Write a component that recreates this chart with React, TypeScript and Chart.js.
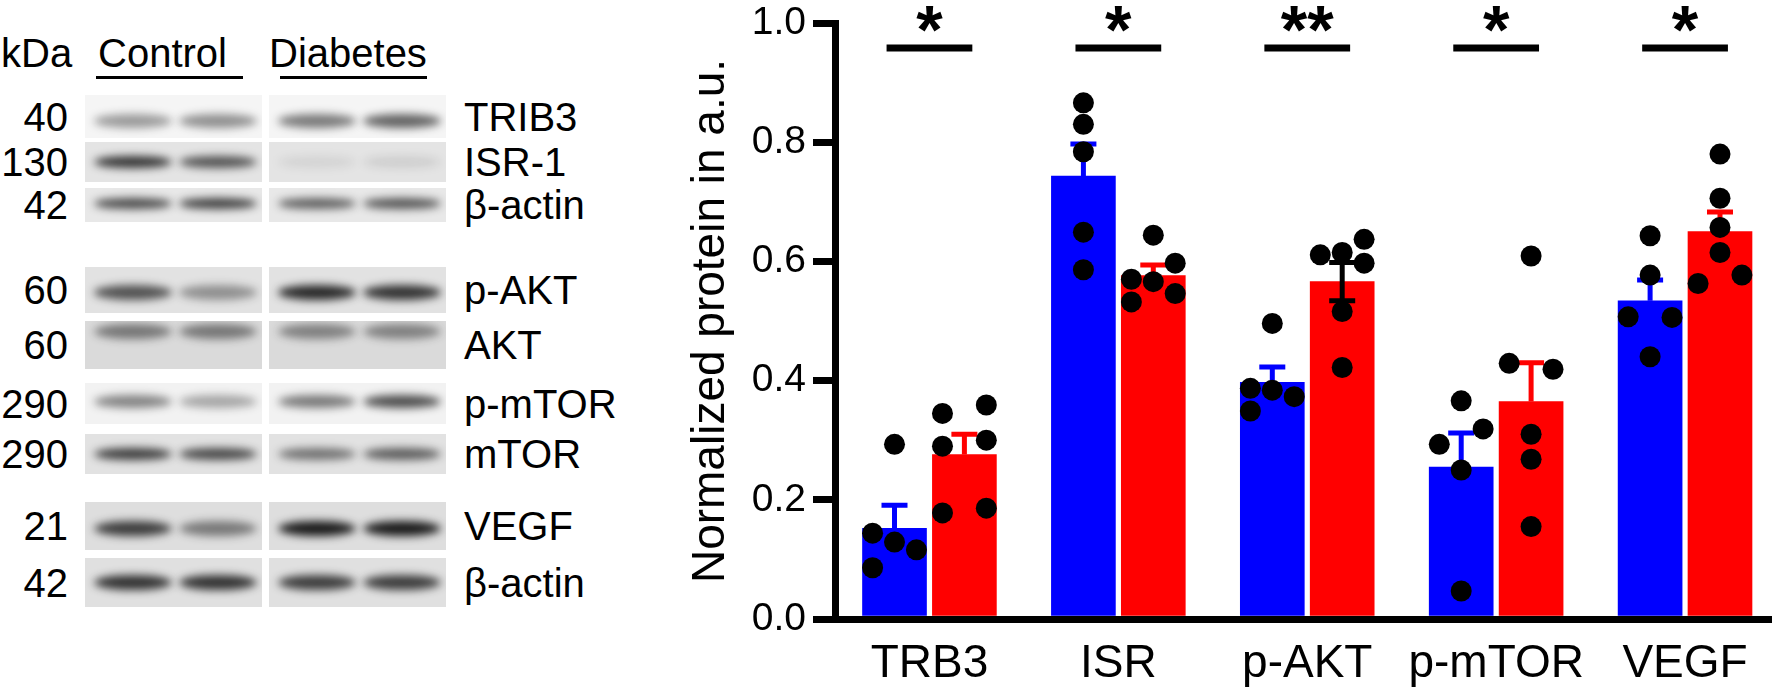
import React, { useEffect, useRef } from 'react';
import { Chart, registerables } from 'chart.js';

Chart.register(...registerables);

const FONT = '"Liberation Sans", Arial, sans-serif';

// bar chart data (normalized protein, a.u.)
const categories = ['TRB3', 'ISR', 'p-AKT', 'p-mTOR', 'VEGF'];
const controlMeans = [0.152, 0.743, 0.397, 0.255, 0.534];
const diabetesMeans = [0.276, 0.576, 0.566, 0.365, 0.65];
const controlSem = [0.039, 0.054, 0.026, 0.057, 0.035];
const diabetesSem = [0.034, 0.018, 0.032, 0.065, 0.033];
const sigLabels = ['*', '*', '**', '*', '*'];
const sigLevel = 0.958;

// single animals: [value, column] with column -1 left, 0 middle, 1 right
const controlPoints = [
  [[0.293, 0], [0.144, -1], [0.129, 0], [0.116, 1], [0.086, -1]],
  [[0.866, 0], [0.83, 0], [0.784, 0], [0.649, 0], [0.586, 0]],
  [[0.496, 0], [0.387, -1], [0.384, 0], [0.373, 1], [0.349, -1]],
  [[0.366, 0], [0.319, 1], [0.293, -1], [0.25, 0], [0.047, 0]],
  [[0.643, 0], [0.577, 0], [0.507, -1], [0.506, 1], [0.44, 0]],
];
const diabetesPoints = [
  [[0.359, 1], [0.345, -1], [0.3, 1], [0.29, -1], [0.186, 1], [0.178, -1]],
  [[0.644, 0], [0.597, 1], [0.57, -1], [0.566, 0], [0.546, 1], [0.532, -1]],
  [[0.637, 1], [0.615, 0], [0.611, -1], [0.597, 1], [0.516, 0], [0.422, 0]],
  [[0.609, 0], [0.429, -1], [0.419, 1], [0.31, 0], [0.268, 0], [0.155, 0]],
  [[0.78, 0], [0.706, 0], [0.657, 0], [0.615, 0], [0.577, 1], [0.563, -1]],
];
// p-AKT diabetes error bar is drawn black and both ways in the original
const diabetesErrColor = ['#ff0000', '#ff0000', '#000000', '#ff0000', '#ff0000'];
const diabetesErrBoth = [false, false, true, false, false];

// western blot panel
const blotKda = ['40', '130', '42', '60', '60', '290', '290', '21', '42'];
const blotNames = ['TRIB3', 'ISR-1', 'β-actin', 'p-AKT', 'AKT', 'p-mTOR', 'mTOR', 'VEGF', 'β-actin'];
const blotBg = ['#f5f5f5', '#e4e4e4', '#e8e8e8', '#e2e2e2', '#dadada', '#f2f2f2', '#e2e2e2', '#dedede', '#e0e0e0'];
// band darkness: control lane 1, lane 2, diabetes lane 1, lane 2
const blotBands = [
  [0.4, 0.45, 0.55, 0.65],
  [0.85, 0.7, 0.08, 0.1],
  [0.75, 0.8, 0.65, 0.7],
  [0.7, 0.4, 0.9, 0.85],
  [0.5, 0.5, 0.45, 0.45],
  [0.5, 0.35, 0.55, 0.75],
  [0.8, 0.75, 0.55, 0.65],
  [0.8, 0.5, 0.97, 0.97],
  [0.85, 0.85, 0.8, 0.8],
];
const blotBandY = [0.6, 0.5, 0.45, 0.55, 0.22, 0.45, 0.5, 0.55, 0.5];
const rowTop = [95, 142, 188, 267, 321, 383, 434, 502, 558];
const rowHeight = [43, 40, 34, 46, 48, 41, 40, 48, 49];

const BAR_SHIFT = 0.185;
const JITTER = 0.116;
const SIG_HALF = 0.227;

const pointsFor = (groups: number[][][], side: number) =>
  groups.flatMap((g, i) => g.map(([v, c]) => ({ x: i + side * BAR_SHIFT + c * JITTER, y: v })));
const barsFor = (means: number[], side: number) => means.map((m, i) => ({ x: i + side * BAR_SHIFT, y: m }));

const errSpecs: Record<number, { means: number[]; sems: number[]; colors: string[]; both: boolean[] }> = {
  0: { means: controlMeans, sems: controlSem, colors: categories.map(() => '#0000ff'), both: categories.map(() => false) },
  1: { means: diabetesMeans, sems: diabetesSem, colors: diabetesErrColor, both: diabetesErrBoth },
};

const errorBars = {
  id: 'errorBars',
  afterDatasetDraw(chart: any, args: any) {
    const spec = errSpecs[args.index];
    if (!spec) return;
    const { ctx } = chart;
    const y = chart.scales.y;
    args.meta.data.forEach((bar: any, i: number) => {
      const top = y.getPixelForValue(spec.means[i] + spec.sems[i]);
      const bottom = y.getPixelForValue(spec.both[i] ? spec.means[i] - spec.sems[i] : spec.means[i]);
      ctx.save();
      ctx.strokeStyle = spec.colors[i];
      ctx.lineWidth = 5;
      ctx.beginPath();
      ctx.moveTo(bar.x, top);
      ctx.lineTo(bar.x, bottom);
      ctx.moveTo(bar.x - 13, top);
      ctx.lineTo(bar.x + 13, top);
      if (spec.both[i]) {
        ctx.moveTo(bar.x - 13, bottom);
        ctx.lineTo(bar.x + 13, bottom);
      }
      ctx.stroke();
      ctx.restore();
    });
  },
};

const stars = {
  id: 'stars',
  afterDraw(chart: any) {
    const { ctx } = chart;
    const x = chart.scales.x;
    const y = chart.scales.y;
    ctx.save();
    ctx.fillStyle = '#000';
    ctx.font = `bold 68px ${FONT}`;
    ctx.textAlign = 'center';
    ctx.textBaseline = 'alphabetic';
    sigLabels.forEach((s, i) => {
      ctx.fillText(s, x.getPixelForValue(i), y.getPixelForValue(sigLevel) + 5);
    });
    ctx.restore();
  },
};

function BarChart() {
  const canvasRef = useRef<HTMLCanvasElement>(null);
  useEffect(() => {
    if (!canvasRef.current) return;
    Chart.defaults.font.family = FONT;
    const sigLines = categories.map((_, i) => ({
      type: 'line' as const,
      data: [{ x: i - SIG_HALF, y: sigLevel }, { x: i + SIG_HALF, y: sigLevel }],
      borderColor: '#000',
      borderWidth: 7,
      borderCapStyle: 'butt' as const,
      pointRadius: 0,
      clip: false,
      order: 2,
    }));
    const barStyle = { barThickness: 64, grouped: false, order: 3 };
    const dotStyle = { type: 'scatter' as const, backgroundColor: '#000', borderWidth: 0, pointRadius: 10.5, order: 1 };
    const chart = new Chart(canvasRef.current, {
      type: 'bar',
      data: {
        datasets: [
          { label: 'Control', data: barsFor(controlMeans, -1), backgroundColor: '#0000ff', ...barStyle },
          { label: 'Diabetes', data: barsFor(diabetesMeans, 1), backgroundColor: '#ff0000', ...barStyle },
          { label: 'Control n', data: pointsFor(controlPoints, -1), ...dotStyle },
          { label: 'Diabetes n', data: pointsFor(diabetesPoints, 1), ...dotStyle },
          ...sigLines,
        ] as any,
      },
      options: {
        animation: false,
        responsive: false,
        devicePixelRatio: 1,
        events: [],
        layout: { padding: { top: 23, right: 7, left: 0, bottom: 0 } },
        plugins: { legend: { display: false }, tooltip: { enabled: false } },
        scales: {
          x: {
            type: 'linear',
            min: -0.5,
            max: 4.5,
            offset: false,
            afterBuildTicks: (s: any) => { s.ticks = categories.map((_, i) => ({ value: i })); },
            grid: { display: false, drawTicks: false, offset: false },
            border: { display: true, width: 7, color: '#000', z: 1 },
            ticks: { color: '#000', font: { size: 46 }, padding: 18, autoSkip: false, maxRotation: 0, callback: (v: any) => categories[v] ?? '' },
            afterFit: (s: any) => { s.height = 71; s.paddingLeft = 0; s.paddingRight = 0; },
          },
          y: {
            min: 0,
            max: 1,
            ticks: { stepSize: 0.2, color: '#000', font: { size: 39 }, padding: 7, callback: (v: any) => Number(v).toFixed(1) },
            grid: { drawOnChartArea: false, drawTicks: true, tickLength: 22, lineWidth: 7, color: '#000' },
            border: { width: 7, color: '#000', z: 1 },
            title: { display: true, text: 'Normalized protein in a.u.', color: '#000', font: { size: 46 }, padding: { top: 44, bottom: 0 } },
            afterFit: (s: any) => { s.width = 195; s.paddingTop = 0; s.paddingBottom = 0; },
          },
        },
      } as any,
      plugins: [errorBars, stars],
    });
    return () => chart.destroy();
  }, []);
  return (
    <canvas ref={canvasRef} width={1150} height={690}
      style={{ position: 'absolute', left: 640, top: 0, width: 1150, height: 690 }} />
  );
}

function Strip({ left, top, height, bg, bands, bandY }: { left: number; top: number; height: number; bg: string; bands: number[]; bandY: number }) {
  return (
    <div style={{ position: 'absolute', left, top, width: 177, height, background: bg, overflow: 'hidden' }}>
      {bands.map((d, k) => (
        <div key={k} style={{
          position: 'absolute', left: `${5 + k * 48}%`, width: '44%', top: `${bandY * 100 - 16}%`, height: '32%',
          borderRadius: '50%', background: `rgba(20,20,20,${d})`, filter: 'blur(4px)',
        }} />
      ))}
    </div>
  );
}

function Blots() {
  const label = (top: number, extra: React.CSSProperties) => ({
    position: 'absolute' as const, top: top - 20, height: 40, lineHeight: '40px', fontSize: 40, whiteSpace: 'nowrap' as const, ...extra,
  });
  return (
    <>
      <div style={label(53, { left: 1 })}>kDa</div>
      <div style={label(53, { left: 98 })}>Control</div>
      <div style={label(53, { left: 269 })}>Diabetes</div>
      <div style={{ position: 'absolute', left: 96, top: 76, width: 147, height: 3, background: '#000' }} />
      <div style={{ position: 'absolute', left: 280, top: 76, width: 147, height: 3, background: '#000' }} />
      {blotNames.map((name, r) => {
        const mid = rowTop[r] + rowHeight[r] / 2;
        return (
          <React.Fragment key={r}>
            <div style={label(mid, { left: 0, width: 68, textAlign: 'right' })}>{blotKda[r]}</div>
            <Strip left={85} top={rowTop[r]} height={rowHeight[r]} bg={blotBg[r]} bands={blotBands[r].slice(0, 2)} bandY={blotBandY[r]} />
            <Strip left={269} top={rowTop[r]} height={rowHeight[r]} bg={blotBg[r]} bands={blotBands[r].slice(2)} bandY={blotBandY[r]} />
            <div style={label(mid, { left: 464 })}>{name}</div>
          </React.Fragment>
        );
      })}
    </>
  );
}

export default function App() {
  return (
    <div style={{ position: 'fixed', left: 0, top: 0, width: 1772, height: 690, overflow: 'hidden', background: '#fff', fontFamily: FONT, color: '#000' }}>
      <Blots />
      <BarChart />
    </div>
  );
}
